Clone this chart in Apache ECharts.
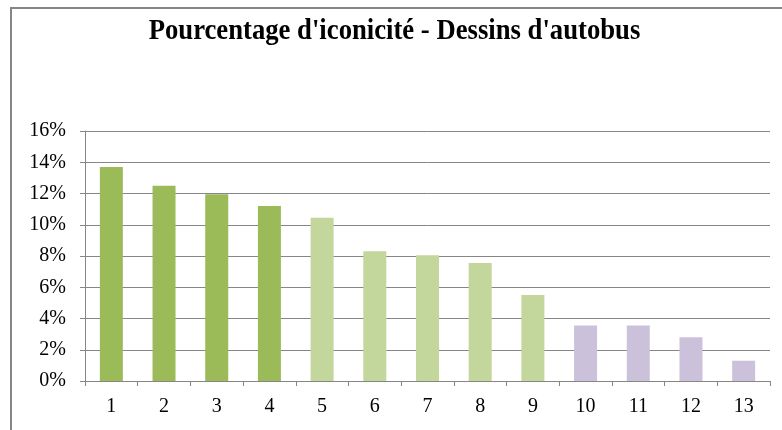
<!DOCTYPE html>
<html>
<head>
<meta charset="utf-8">
<script src="https://cdn.jsdelivr.net/npm/echarts@6/dist/echarts.min.js"></script>
<style>
  html, body { margin: 0; padding: 0; background: #fff; }
  #chart { width: 782px; height: 430px; }
</style>
</head>
<body>
<div id="chart"></div>
<script>
// Bus drawings: share of iconicity per drawing (percent)
const categories = ['1', '2', '3', '4', '5', '6', '7', '8', '9', '10', '11', '12', '13'];
const values = [13.7, 12.5, 11.95, 11.2, 10.45, 8.3, 8.05, 7.55, 5.5, 3.55, 3.55, 2.8, 1.3];
// Group of each drawing: 0 = top group, 1 = middle group, 2 = bottom group
const groups = [0, 0, 0, 0, 1, 1, 1, 1, 1, 2, 2, 2, 2];
const groupColors = ['#9BBB59', '#C3D69B', '#CCC1DA'];
const yTicks = [0, 2, 4, 6, 8, 10, 12, 14, 16];
const titleText = "Pourcentage d'iconicité - Dessins d'autobus";

const font = '"Liberation Serif", "Times New Roman", serif';
const chart = echarts.init(document.getElementById('chart'), null, { renderer: 'canvas' });

chart.setOption({
  animation: false,
  backgroundColor: '#ffffff',
  graphic: [
    {
      // outer chart frame
      type: 'rect',
      shape: { x: 11, y: 8, width: 900, height: 600 },
      style: { fill: 'none', stroke: '#868686', lineWidth: 2 },
      silent: true
    },
    {
      // condensed bold title
      type: 'text',
      x: 394.5,
      y: 32,
      scaleX: 0.92,
      style: {
        text: titleText,
        x: 0,
        y: 0,
        align: 'center',
        verticalAlign: 'middle',
        font: 'bold 29px ' + font,
        fill: '#000'
      },
      silent: true
    }
  ],
  grid: { left: 85, right: 12, top: 131, bottom: 49 },
  xAxis: {
    type: 'category',
    data: categories,
    axisLine: { lineStyle: { color: '#868686', width: 1 } },
    axisTick: { show: true, alignWithLabel: false, length: 5, lineStyle: { color: '#868686' } },
    axisLabel: { fontFamily: font, fontSize: 20, color: '#000', margin: 16 }
  },
  yAxis: {
    type: 'value',
    min: yTicks[0],
    max: yTicks[yTicks.length - 1],
    interval: 2,
    axisLine: { show: true, lineStyle: { color: '#868686', width: 1 } },
    axisTick: { show: true, length: 5, lineStyle: { color: '#868686' } },
    splitLine: { lineStyle: { color: '#868686', width: 1 } },
    axisLabel: { fontFamily: font, fontSize: 20, color: '#000', margin: 19, formatter: v => v + '%' }
  },
  series: [{
    type: 'bar',
    barWidth: 23,
    data: values.map((v, i) => ({ value: v, itemStyle: { color: groupColors[groups[i]] } }))
  }]
});
</script>
</body>
</html>
